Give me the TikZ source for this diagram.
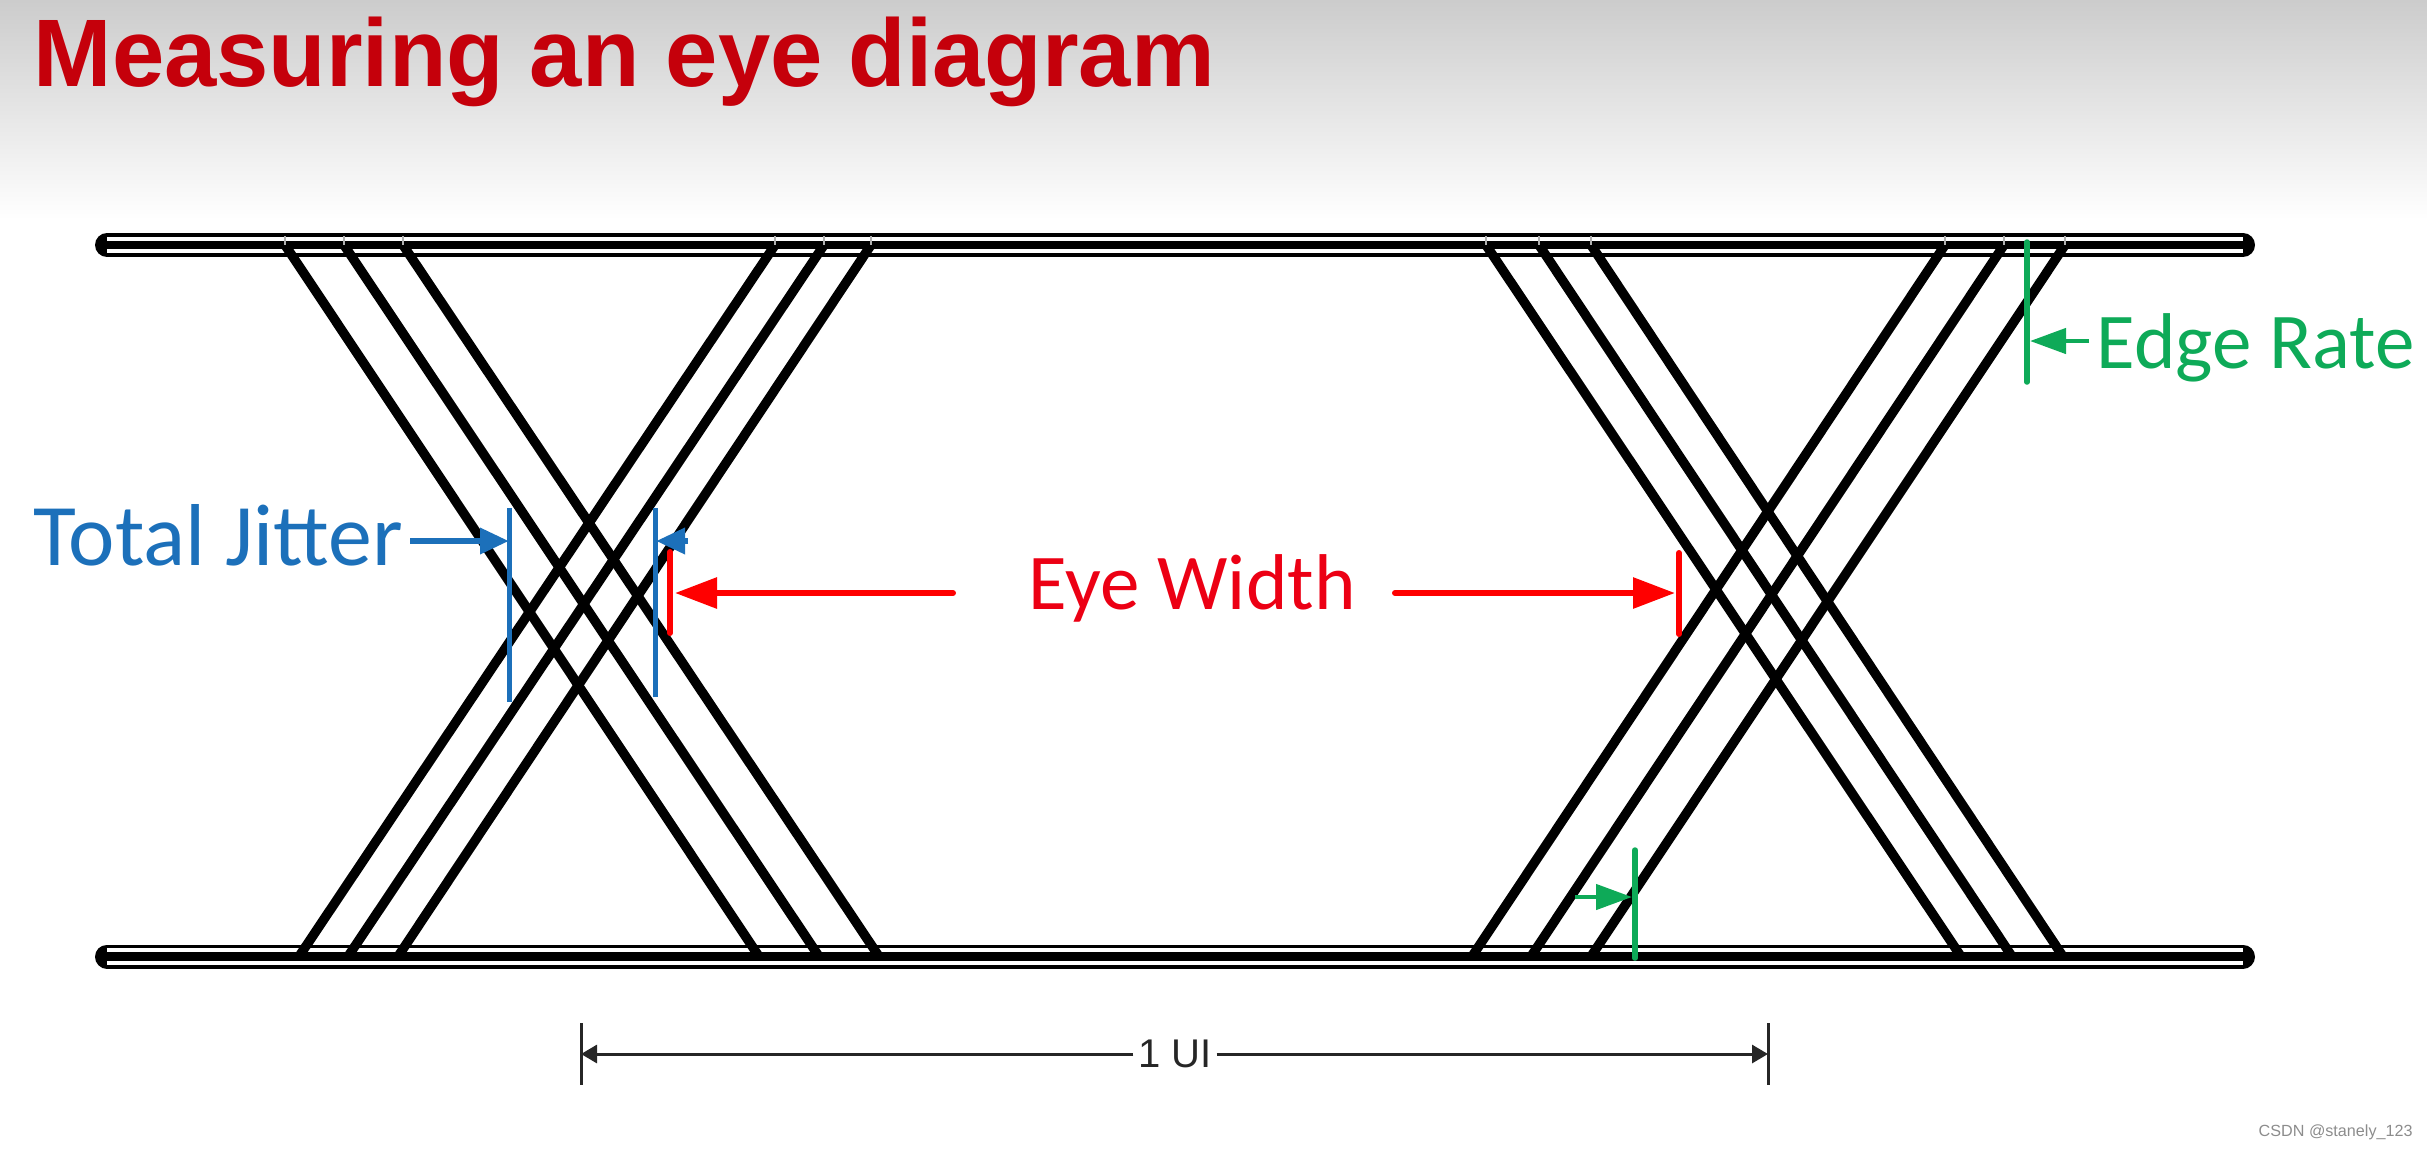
\documentclass[tikz,border=0pt]{standalone}
\usepackage{fontspec}
\setmainfont{Carlito}
\newfontfamily\arialfont{Liberation Sans}
\usetikzlibrary{arrows.meta}
\definecolor{titlered}{RGB}{197,0,11}
\definecolor{eyered}{RGB}{236,0,20}
\definecolor{jitterblue}{RGB}{28,112,186}
\definecolor{edgegreen}{RGB}{14,170,88}
\begin{document}
\begin{tikzpicture}[
        signal/.style={black, line width=0.095cm},
        tick/.style={gray!60, line width=0.015cm},
        bluebar/.style={jitterblue, line width=0.05cm},
        bluearrow/.style={jitterblue, line width=0.065cm, -{Triangle[length=0.29cm,width=0.25cm]}},
        redbar/.style={red, line width=0.06cm, line cap=round},
        redarrow/.style={red, line width=0.06cm, line cap=round, -{Triangle[length=0.42cm,width=0.30cm]}},
        greenbar/.style={edgegreen, line width=0.055cm, line cap=round},
        greenarrow/.style={edgegreen, line width=0.045cm, -{Triangle[length=0.36cm,width=0.25cm]}},
        dimline/.style={black!85, line width=0.03cm},
        dimarrow/.style={dimline, -{Triangle[length=0.16cm,width=0.18cm]}},
        label/.style={anchor=base west, inner sep=0pt}
    ]
        \useasboundingbox (0,0) rectangle (24.27,-11.48);
        % tlo
        \shade[top color=black!20, bottom color=white] (0,0) rectangle (24.27,-2.2);
        % tytul
        \node[label, text=titlered, xscale=0.98, transform shape, font=\arialfont\bfseries\fontsize{27.3}{32}\selectfont] (title) at (0.33,-0.86) {Measuring an eye diagram};
        % szyny: gora i dol
        \foreach \y in {-2.45,-9.565} {
            \draw[black, line width=0.24cm, line cap=round] (1.07,\y) -- (22.43,\y);
            \draw[white, line width=0.165cm] (1.07,\y) -- (22.43,\y);
            \draw[black, line width=0.085cm] (1.07,\y) -- (22.43,\y);
        }
        % zbocza opadajace i narastajace
        \foreach \t/\b in {2.85/7.59, 3.44/8.19, 4.03/8.79, 7.75/2.99, 8.24/3.48, 8.71/3.98,
                           14.86/19.61, 15.39/20.12, 15.91/20.63, 19.45/14.72, 20.04/15.31, 20.65/15.91} {
            \draw[signal] (\t,-2.45) -- (\b,-9.565);
            \draw[tick] (\t,-2.36) -- (\t,-2.45);
        }
        % total jitter
        \node[label, text=jitterblue, font=\fontsize{25}{30}\selectfont] (jitter) at (0.33,-5.65) {Total Jitter};
        \coordinate (jittail) at (4.10,-5.41);
        \coordinate (jitl) at (5.09,-5.41);
        \coordinate (jitr) at (6.56,-5.41);
        \coordinate (jitrtail) at (6.88,-5.41);
        \draw[bluebar] (5.09,-5.08) -- (5.09,-7.02);
        \draw[bluebar] (6.55,-5.08) -- (6.55,-6.97);
        \draw[bluearrow] (jittail) -- (jitl);
        \draw[bluearrow] (jitrtail) -- (jitr);
        % eye width
        \node[label, text=eyered, font=\fontsize{22.5}{27}\selectfont] (eyewidth) at (10.28,-6.09) {Eye Width};
        \coordinate (eyel) at (6.75,-5.93);
        \coordinate (eyer) at (16.75,-5.93);
        \coordinate (eyeltail) at (9.53,-5.93);
        \coordinate (eyertail) at (13.95,-5.93);
        \draw[redbar] (6.70,-5.52) -- (6.70,-6.33);
        \draw[redbar] (16.79,-5.53) -- (16.79,-6.34);
        \draw[redarrow] (eyeltail) -- (eyel);
        \draw[redarrow] (eyertail) -- (eyer);
        % edge rate
        \node[label, text=edgegreen, font=\fontsize{22.5}{27}\selectfont] (edgerate) at (20.96,-3.68) {Edge Rate};
        \coordinate (edgetip) at (20.30,-3.41);
        \coordinate (edgetail) at (20.89,-3.41);
        \coordinate (lowtip) at (16.32,-8.97);
        \coordinate (lowtail) at (15.75,-8.97);
        \draw[greenbar] (20.27,-2.42) -- (20.27,-3.82);
        \draw[greenbar] (16.35,-8.50) -- (16.35,-9.58);
        \draw[greenarrow] (edgetail) -- (edgetip);
        \draw[greenarrow] (lowtail) -- (lowtip);
        % 1 UI
        \node[font=\arialfont\fontsize{11.4}{14}\selectfont, inner sep=0pt, minimum width=0.82cm, text=black!85] (ui) at (11.75,-10.54) {1 UI};
        \coordinate (uil) at (5.81,-10.54);
        \coordinate (uir) at (17.68,-10.54);
        \draw[dimline] (5.81,-10.23) -- (5.81,-10.85);
        \draw[dimline] (17.68,-10.23) -- (17.68,-10.85);
        \draw[dimarrow] (ui) -- (uil);
        \draw[dimarrow] (ui) -- (uir);
        % podpis
        \node[label, text=black!45, font=\arialfont\fontsize{4.6}{6}\selectfont] (credit) at (22.58,-11.36) {CSDN @stanely\_123};
    \end{tikzpicture}
\end{document}
